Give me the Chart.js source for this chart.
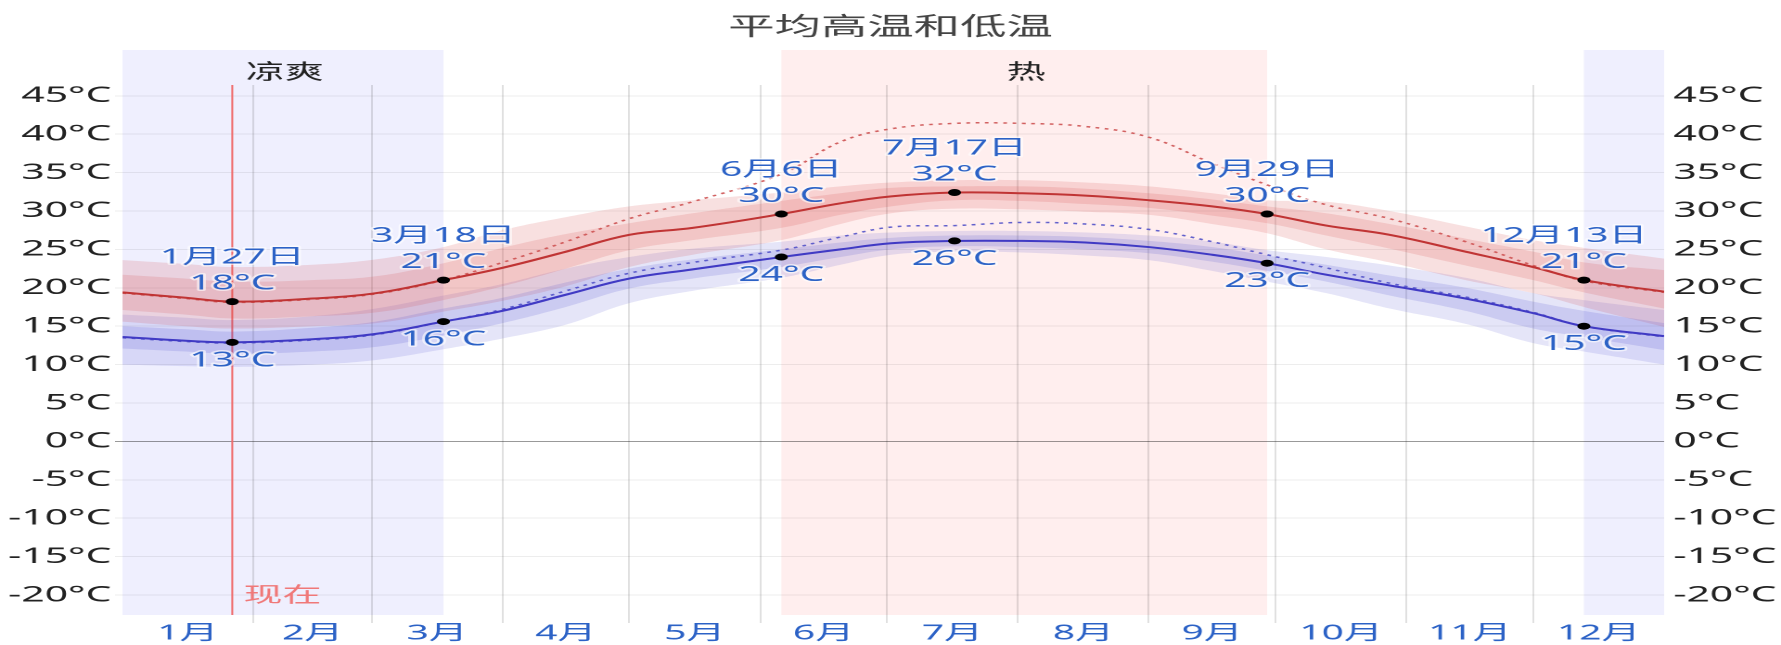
<!DOCTYPE html>
<html>
<head>
<meta charset="utf-8">
<script src="https://cdn.jsdelivr.net/npm/chart.js@4.4.1/dist/chart.umd.min.js"></script>
<style>
  html, body { margin: 0; padding: 0; background: #fff; overflow: hidden; }
  #wrap { width: 960px; height: 645px; transform: scaleX(1.8552); transform-origin: 0 0; }
</style>
</head>
<body>
<div id="wrap"><canvas id="chart" width="960" height="645"></canvas></div>
<script>
// day of year (0 = 1 Jan) for every sample
const days = [0, 15, 26, 45, 60, 76, 90, 105, 120, 135, 156, 170, 182, 197, 213, 228, 243, 258, 271, 285, 300, 318, 334, 346, 365];

const highAvg = [19.4, 18.7, 18.2, 18.6, 19.3, 21.0, 22.6, 24.7, 26.9, 27.8, 29.6, 31.0, 31.9, 32.4, 32.3, 32.0, 31.4, 30.6, 29.6, 28.1, 26.9, 24.7, 22.7, 21.0, 19.5];
const lowAvg = [13.6, 13.1, 12.9, 13.3, 14.0, 15.6, 17.0, 19.1, 21.2, 22.4, 24.0, 25.0, 25.8, 26.1, 26.1, 25.9, 25.3, 24.3, 23.2, 21.7, 20.3, 18.6, 16.7, 15.0, 13.7];
const highFeels = [19.3, 18.6, 18.1, 18.5, 19.2, 21.0, 23.3, 26.0, 29.0, 31.2, 34.8, 39.0, 40.7, 41.4, 41.4, 41.0, 39.6, 36.2, 33.4, 30.8, 29.0, 26.0, 22.9, 20.9, 19.4];
const lowFeels = [13.5, 13.0, 12.8, 13.2, 13.9, 15.6, 17.2, 19.6, 21.9, 23.3, 24.9, 26.6, 27.9, 28.1, 28.5, 28.3, 27.6, 26.0, 24.3, 22.6, 20.6, 18.8, 16.8, 15.0, 13.6];

const highP10 = [15.6, 15.0, 14.7, 15.0, 15.4, 16.9, 18.3, 20.2, 22.7, 24.3, 26.2, 28.3, 29.7, 30.3, 30.2, 29.9, 29.5, 28.3, 27.1, 25.0, 23.3, 21.0, 19.3, 17.5, 14.9];
const highP25 = [17.1, 16.5, 16.0, 16.3, 16.8, 18.4, 20.2, 22.5, 24.9, 26.2, 27.8, 29.5, 30.6, 31.4, 31.3, 30.9, 30.4, 29.4, 28.4, 26.8, 25.1, 22.9, 21.0, 19.4, 17.3];
const highP75 = [21.7, 21.2, 20.8, 21.0, 21.5, 23.2, 25.2, 27.0, 28.4, 29.7, 31.3, 32.3, 33.0, 33.2, 33.2, 32.9, 32.3, 31.5, 30.6, 29.7, 28.3, 26.4, 24.7, 23.3, 22.3];
const highP90 = [23.6, 23.1, 22.7, 23.0, 23.7, 25.3, 27.5, 29.2, 30.6, 31.4, 32.4, 33.2, 33.7, 34.0, 34.0, 33.7, 33.2, 32.3, 31.4, 31.2, 30.0, 28.0, 26.2, 25.2, 23.8];

const lowP10 = [10.0, 9.8, 9.7, 10.0, 10.6, 12.0, 13.4, 15.2, 18.0, 19.6, 21.3, 23.0, 24.3, 24.7, 24.6, 24.2, 23.6, 22.2, 20.8, 19.3, 17.3, 15.3, 12.8, 11.7, 10.0];
const lowP25 = [12.1, 11.7, 11.4, 11.7, 12.3, 13.8, 15.4, 17.5, 19.9, 21.2, 22.7, 24.0, 25.0, 25.4, 25.3, 25.0, 24.5, 23.4, 22.2, 20.8, 19.0, 17.0, 14.7, 13.6, 11.9];
const lowP75 = [15.0, 14.6, 14.3, 14.8, 15.6, 17.3, 18.7, 20.7, 22.5, 23.7, 25.0, 25.9, 26.5, 26.8, 26.8, 26.6, 26.1, 25.3, 24.2, 23.0, 21.6, 20.0, 18.2, 17.0, 15.4];
const lowP90 = [16.5, 16.1, 15.8, 16.3, 17.3, 19.0, 20.5, 22.5, 24.0, 25.1, 26.0, 26.8, 27.2, 27.4, 27.4, 27.2, 26.8, 26.0, 24.9, 24.0, 22.9, 21.3, 19.3, 18.4, 17.1];

const markerDays = [26, 76, 156, 197, 271, 346];
const markerDates = ['1月27日', '3月18日', '6月6日', '7月17日', '9月29日', '12月13日'];
const markerHigh = [18, 21, 30, 32, 30, 21];
const markerLow = [13, 16, 24, 26, 23, 15];

const seasonNames = ['凉爽', '热', ''];
const seasonFrom = [0, 156, 346];
const seasonTo = [76, 271, 365];
const nowDay = 26;
const nowLabel = '现在';

const monthStarts = [0, 31, 59, 90, 120, 151, 181, 212, 243, 273, 304, 334, 365];
const monthLabels = ['1月', '2月', '3月', '4月', '5月', '6月', '7月', '8月', '9月', '10月', '11月', '12月'];
const tempTicks = [-20, -15, -10, -5, 0, 5, 10, 15, 20, 25, 30, 35, 40, 45];

const BLUE_TEXT = '#2c62c6';
const RED = 'rgb(192,52,52)';
const BLUE = 'rgb(64,58,196)';
const FONT = '"Noto Sans", "Noto Sans CJK SC", sans-serif';
Chart.defaults.font.family = FONT;

const pts = (vals) => vals.map((v, i) => ({ x: days[i], y: v }));
const monthMid = monthLabels.map((_, i) => (monthStarts[i] + monthStarts[i + 1]) / 2);
const markerRadius = days.map(d => markerDays.includes(d) ? 3.5 : 0);

function band(data, fill, color, order) {
  return { data: pts(data), fill, backgroundColor: color, borderWidth: 0, pointRadius: 0, tension: 0.4, order };
}

const datasets = [
  { data: pts(highAvg), borderColor: RED, borderWidth: 2, pointRadius: markerRadius, pointBackgroundColor: '#000', pointBorderWidth: 0, tension: 0.4, fill: false, order: 0 },
  { data: pts(lowAvg), borderColor: BLUE, borderWidth: 2, pointRadius: markerRadius, pointBackgroundColor: '#000', pointBorderWidth: 0, tension: 0.4, fill: false, order: 0 },
  { data: pts(highFeels), borderColor: 'rgba(205,80,80,0.9)', borderWidth: 1.5, borderDash: [2, 3], pointRadius: 0, tension: 0.4, fill: false, order: 1 },
  { data: pts(lowFeels), borderColor: 'rgba(80,80,200,0.9)', borderWidth: 1.5, borderDash: [2, 3], pointRadius: 0, tension: 0.4, fill: false, order: 1 },
  band(highP10, false, 'transparent', 3),
  band(highP90, '-1', 'rgba(212,70,70,0.17)', 3),
  band(highP25, false, 'transparent', 2),
  band(highP75, '-1', 'rgba(212,70,70,0.17)', 2),
  band(lowP10, false, 'transparent', 3),
  band(lowP90, '-1', 'rgba(80,80,205,0.15)', 3),
  band(lowP25, false, 'transparent', 2),
  band(lowP75, '-1', 'rgba(80,80,205,0.17)', 2),
];

const seasonBands = {
  id: 'seasonBands',
  beforeDraw(chart) {
    const { ctx, chartArea, scales: { x } } = chart;
    ctx.save();
    seasonNames.forEach((name, i) => {
      const x0 = x.getPixelForValue(seasonFrom[i]);
      const x1 = x.getPixelForValue(seasonTo[i]);
      ctx.fillStyle = seasonFrom[i] > 100 && seasonTo[i] < 300 ? 'rgb(255,238,238)' : 'rgb(239,239,254)';
      ctx.fillRect(x0, 50, x1 - x0, chartArea.bottom - 50);
      if (name) {
        ctx.fillStyle = '#222';
        ctx.font = '21px ' + FONT;
        ctx.textAlign = 'center';
        ctx.textBaseline = 'middle';
        ctx.fillText(name, (x0 + x1) / 2 + 1, 73);
      }
    });
    ctx.restore();
  },
  beforeDatasetsDraw(chart) {
    const { ctx, chartArea, scales: { x } } = chart;
    const nx = x.getPixelForValue(nowDay);
    ctx.save();
    ctx.strokeStyle = 'rgb(240,105,105)';
    ctx.lineWidth = 1;
    ctx.beginPath();
    ctx.moveTo(nx, chartArea.top);
    ctx.lineTo(nx, chartArea.bottom);
    ctx.stroke();
    ctx.fillStyle = 'rgb(240,120,120)';
    ctx.font = '21px ' + FONT;
    ctx.textAlign = 'left';
    ctx.textBaseline = 'middle';
    ctx.fillText(nowLabel, nx + 6, 596);
    ctx.restore();
  }
};

const markerNotes = {
  id: 'markerNotes',
  afterDatasetsDraw(chart) {
    const { ctx, chartArea, scales: { x, y } } = chart;
    ctx.save();
    ctx.font = '21px ' + FONT;
    ctx.textAlign = 'center';
    ctx.textBaseline = 'middle';
    ctx.lineJoin = 'round';
    const put = (t, px, py) => {
      // keep the note inside the plot
      const half = ctx.measureText(t).width / 2;
      const cx = Math.min(Math.max(px, chartArea.left + half + 9), chartArea.right - half - 9);
      ctx.strokeStyle = 'rgba(255,255,255,0.6)';
      ctx.lineWidth = 3;
      ctx.strokeText(t, cx, py);
      ctx.fillStyle = BLUE_TEXT;
      ctx.fillText(t, cx, py);
    };
    markerDays.forEach((d, i) => {
      const k = days.indexOf(d);
      const px = x.getPixelForValue(d);
      const hy = y.getPixelForValue(highAvg[k]);
      const ly = y.getPixelForValue(lowAvg[k]);
      put(markerDates[i], px, hy - 44);
      put(markerHigh[i] + '°C', px, hy - 18);
      put(markerLow[i] + '°C', px, ly + 18);
    });
    ctx.restore();
  }
};

const tickFmt = (v) => v + '°C';

new Chart(document.getElementById('chart').getContext('2d'), {
  type: 'line',
  data: { datasets },
  options: {
    responsive: false, animation: false, devicePixelRatio: 2,
    events: [],
    plugins: {
      legend: { display: false },
      tooltip: { enabled: false },
      title: { display: true, text: '平均高温和低温', color: '#444', font: { size: 25, weight: 'normal' }, padding: { top: 13, bottom: 42 } },
    },
    scales: {
      x: {
        type: 'linear', min: 0, max: 365, position: 'bottom', weight: 0,
        afterBuildTicks: (a) => { a.ticks = monthStarts.slice(1, -1).map(v => ({ value: v })); },
        ticks: { display: false, autoSkip: false },
        grid: { color: 'rgba(0,0,0,0.12)', tickLength: 8 },
        border: { display: false },
        afterFit: (a) => { a.height = 0; },
      },
      xm: {
        type: 'linear', min: 0, max: 365, position: 'bottom', weight: 1,
        afterBuildTicks: (a) => { a.ticks = monthMid.map(v => ({ value: v })); },
        ticks: { callback: (v, i) => monthLabels[i], color: BLUE_TEXT, font: { size: 21 }, padding: 6, autoSkip: false, maxRotation: 0 },
        grid: { display: false, drawTicks: false },
        border: { display: false },
        afterFit: (a) => { a.height = 30; },
      },
      y: {
        min: -22.6, max: 46.4, position: 'left',
        afterBuildTicks: (a) => { a.ticks = tempTicks.map(v => ({ value: v })); },
        ticks: { callback: tickFmt, color: '#222', font: { size: 22 }, padding: 2 },
        grid: { color: (c) => c.tick && c.tick.value === 0 ? 'rgba(0,0,0,0.4)' : 'rgba(0,0,0,0.07)', tickLength: 4 },
        border: { display: false },
        afterFit: (a) => { a.width = 66; },
      },
      y2: {
        min: -22.6, max: 46.4, position: 'right',
        afterBuildTicks: (a) => { a.ticks = tempTicks.map(v => ({ value: v })); },
        ticks: { callback: tickFmt, color: '#222', font: { size: 22 }, padding: 5 },
        grid: { display: false, drawTicks: false },
        border: { display: false },
        afterFit: (a) => { a.width = 63; },
      },
    },
  },
  plugins: [seasonBands, markerNotes],
});
</script>
</body>
</html>
